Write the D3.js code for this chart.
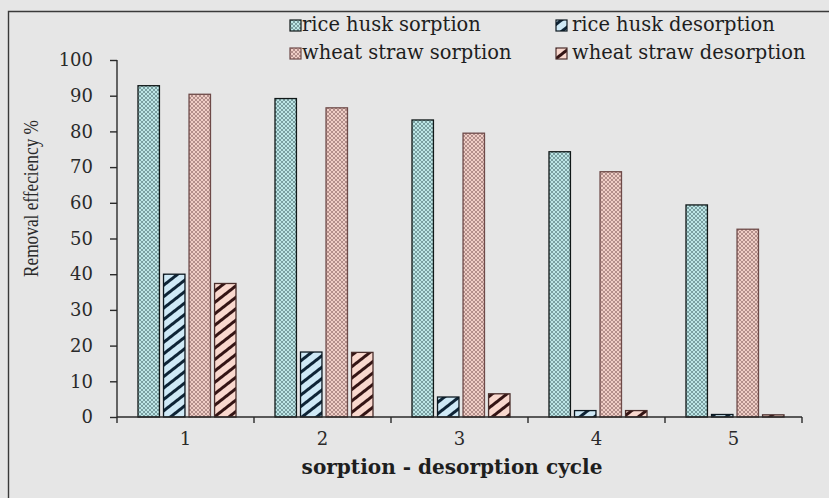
<!DOCTYPE html>
<html><head><meta charset="utf-8">
<script src="https://cdn.jsdelivr.net/npm/d3@7"></script>
<style>body{margin:0;background:#e6e6e6;overflow:hidden}</style>
</head><body>
<svg id="chart" width="829" height="498"></svg>
<script>
// ---- data ----
const cycles = ["1", "2", "3", "4", "5"];
const seriesNames = ["rice husk sorption", "rice husk desorption", "wheat straw sorption", "wheat straw desorption"];
const riceHuskSorption     = [92.8, 89.2, 83.2, 74.3, 59.4];
const riceHuskDesorption   = [40.0, 18.2, 5.6, 1.8, 0.7];
const wheatStrawSorption   = [90.4, 86.6, 79.5, 68.7, 52.6];
const wheatStrawDesorption = [37.4, 18.1, 6.5, 1.8, 0.6];
const yTicks = [0, 10, 20, 30, 40, 50, 60, 70, 80, 90, 100];
const yTitle = "Removal effeciency %";
const xTitle = "sorption -  desorption cycle";

const seriesValues = [riceHuskSorption, riceHuskDesorption, wheatStrawSorption, wheatStrawDesorption];

// ---- styles ----
const styles = [
  {pat: "rhs", fill: "#bde6e6", ink: "#1c3c40", stroke: "#101818", kind: "hatch"},
  {pat: "rhd", fill: "#cfe9f6", ink: "#0e2436", stroke: "#0c1820", kind: "stripe"},
  {pat: "wss", fill: "#f0cec6", ink: "#5e3838", stroke: "#6e4a48", kind: "hatch"},
  {pat: "wsd", fill: "#f9d8ce", ink: "#341414", stroke: "#4a2e2c", kind: "stripe"}
];

const svg = d3.select("#chart");
const W = 829, H = 498;
svg.append("rect").attr("width", W).attr("height", H).attr("fill", "#e6e6e6");

const defs = svg.append("defs");
styles.forEach(s => {
  if (s.kind === "hatch") {
    const p = defs.append("pattern").attr("id", s.pat)
      .attr("patternUnits", "userSpaceOnUse").attr("width", 4).attr("height", 4);
    p.append("rect").attr("width", 4).attr("height", 4).attr("fill", s.fill);
    p.append("path").attr("d", "M0,0 L4,4 M4,0 L0,4 M-1,1 L1,-1 M3,5 L5,3 M-1,3 L1,5 M3,-1 L5,1")
      .attr("stroke", s.ink).attr("stroke-width", 0.6).attr("stroke-opacity", 0.7);
  } else {
    const p = defs.append("pattern").attr("id", s.pat)
      .attr("patternUnits", "userSpaceOnUse").attr("width", 9).attr("height", 9)
      .attr("patternTransform", "rotate(-38)");
    p.append("rect").attr("width", 9).attr("height", 9).attr("fill", s.fill);
    p.append("rect").attr("y", 0).attr("width", 9).attr("height", 3).attr("fill", s.ink);
  }
});

// frame
svg.append("path").attr("d", "M8.5,498 L8.5,11.5 L829,11.5")
  .attr("fill", "none").attr("stroke", "#3a3a3a").attr("stroke-width", 1.4);

// ---- scales ----
const x0 = 117, x1 = 802, yBottom = 417, yTop = 60;
const x = d3.scaleBand().domain(cycles).range([x0, x1]).paddingInner(0).paddingOuter(0);
const xs = d3.scaleBand().domain(seriesNames).range([0, 98]).paddingInner(0.16).paddingOuter(0);
const y = d3.scaleLinear().domain([0, 100]).range([yBottom, yTop]);
const groupOffset = (x.bandwidth() - 98) / 2 + 1.5;

// ---- bars ----
const g = svg.append("g");
seriesNames.forEach((name, si) => {
  g.selectAll(null).data(cycles).enter().append("rect")
    .attr("x", c => x(c) + groupOffset + xs(name))
    .attr("y", (c, i) => y(seriesValues[si][i]))
    .attr("width", xs.bandwidth())
    .attr("height", (c, i) => y(0) - y(seriesValues[si][i]))
    .attr("fill", `url(#${styles[si].pat})`)
    .attr("stroke", styles[si].stroke).attr("stroke-width", 1.3);
});

const fontSerif = "'DejaVu Serif', serif";

// ---- axes ----
const yAxis = d3.axisLeft(y).tickValues(yTicks).tickSize(7).tickPadding(17).tickFormat(d3.format("d"));
const ya = svg.append("g").attr("transform", `translate(${x0},0)`).call(yAxis);
ya.select(".domain").attr("d", `M0,${yTop} V${yBottom + 6}`);
ya.selectAll("line").attr("stroke", "#2a2a2a").attr("stroke-width", 1.4);
ya.select(".domain").attr("stroke", "#2a2a2a").attr("stroke-width", 1.4);
ya.selectAll("text").attr("font-family", fontSerif).attr("font-size", 18).attr("fill", "#2a2a2a");

const xAxis = d3.axisBottom(x).tickSize(0).tickPadding(15);
const xa = svg.append("g").attr("transform", `translate(0,${yBottom})`).call(xAxis);
xa.select(".domain").attr("d", `M${x0},0 H${x1}`).attr("stroke", "#2a2a2a").attr("stroke-width", 1.4);
xa.selectAll("text").attr("font-family", fontSerif).attr("font-size", 18).attr("fill", "#2a2a2a");
// boundary ticks
xa.selectAll(".bt").data(cycles.slice(1).concat(["end"])).enter().append("line")
  .attr("x1", c => c === "end" ? x1 : x(c)).attr("x2", c => c === "end" ? x1 : x(c))
  .attr("y1", 0).attr("y2", 6).attr("stroke", "#2a2a2a").attr("stroke-width", 1.4);

function fit(sel, target) {
  const n = sel.node();
  const fs = parseFloat(sel.attr("font-size"));
  const w = n.getComputedTextLength();
  sel.attr("font-size", (fs * target / w).toFixed(2));
}

// y title (condensed serif)
svg.append("text").attr("transform", `translate(38,${(120 + 277) / 2}) rotate(-90)`)
  .attr("text-anchor", "middle").attr("font-family", "'Liberation Serif', serif")
  .attr("font-size", 20).attr("fill", "#2a2a2a")
  .attr("textLength", 157).attr("lengthAdjust", "spacingAndGlyphs").text(yTitle);

// x title
const xt = svg.append("text").attr("x", 452).attr("y", 474)
  .attr("text-anchor", "middle").attr("font-family", fontSerif).attr("font-weight", "bold")
  .attr("font-size", 18).attr("fill", "#1e1e1e").text(xTitle);
fit(xt, 301);

// ---- legend ----
const legendPos = [
  {sx: 290, tx: 302, cy: 25},
  {sx: 556, tx: 572, cy: 25},
  {sx: 290, tx: 302, cy: 53},
  {sx: 556, tx: 572, cy: 53}
];
const lg = svg.append("g");
seriesNames.forEach((name, i) => {
  const p = legendPos[i];
  lg.append("rect").attr("x", p.sx).attr("y", p.cy - 5).attr("width", 11).attr("height", 11)
    .attr("fill", `url(#${styles[i].pat})`).attr("stroke", styles[i].stroke).attr("stroke-width", 1.2);
  const t = lg.append("text").attr("x", p.tx).attr("y", p.cy + 6)
    .attr("font-family", fontSerif).attr("font-size", 18).attr("fill", "#1e1e1e").text(name);
  if (i === 1) fit(t, 203);
});
const fsLegend = lg.selectAll("text").filter((d, i) => i === 1).attr("font-size");
lg.selectAll("text").attr("font-size", fsLegend);
</script>
</body></html>
